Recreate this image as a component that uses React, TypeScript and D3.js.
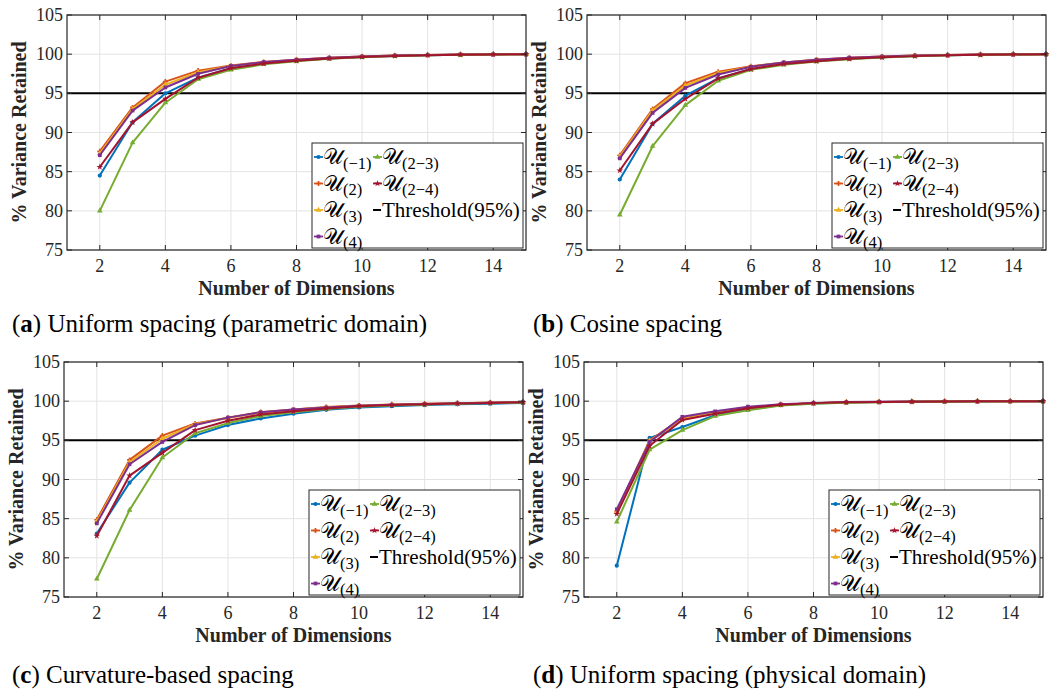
import React from 'react';
import * as d3 from 'd3';

// number of dimensions on the x axis
const dims = [2, 3, 4, 5, 6, 7, 8, 9, 10, 11, 12, 13, 14, 15];

const seriesNames = ['(−1)', '(2)', '(3)', '(4)', '(2−3)', '(2−4)'];
const seriesColors = ['#0072BD', '#D95319', '#EDB120', '#7E2F8E', '#77AC30', '#A2142F'];
const seriesSymbols = [d3.symbolCircle, d3.symbolCross, d3.symbolTriangle, d3.symbolSquare, d3.symbolTriangle, d3.symbolStar];

const yTicks = [75, 80, 85, 90, 95, 100, 105];
const xTicks = [2, 4, 6, 8, 10, 12, 14];
const threshold = 95;

// (a) uniform spacing, parametric domain
const uniformParamBlue = [84.5, 91.3, 95.0, 97.0, 98.2, 98.8, 99.2, 99.45, 99.65, 99.78, 99.87, 99.93, 99.97, 100];
const uniformParamOrange = [87.6, 93.2, 96.5, 97.9, 98.55, 99.0, 99.3, 99.55, 99.7, 99.82, 99.9, 99.95, 99.98, 100];
const uniformParamYellow = [87.3, 93.0, 96.1, 97.7, 98.5, 98.95, 99.27, 99.52, 99.68, 99.8, 99.88, 99.94, 99.97, 100];
const uniformParamPurple = [87.1, 92.8, 95.75, 97.5, 98.5, 99.0, 99.3, 99.55, 99.7, 99.82, 99.9, 99.95, 99.98, 100];
const uniformParamGreen = [80.0, 88.7, 93.8, 96.8, 98.0, 98.7, 99.1, 99.4, 99.6, 99.75, 99.85, 99.92, 99.97, 100];
const uniformParamRed = [85.6, 91.3, 94.3, 97.0, 98.2, 98.8, 99.15, 99.45, 99.65, 99.78, 99.87, 99.93, 99.97, 100];

// (b) cosine spacing
const cosineBlue = [84.0, 91.1, 94.7, 96.9, 98.1, 98.75, 99.15, 99.4, 99.6, 99.75, 99.85, 99.92, 99.97, 100];
const cosineOrange = [87.1, 93.0, 96.3, 97.75, 98.45, 98.95, 99.3, 99.55, 99.7, 99.82, 99.9, 99.95, 99.98, 100];
const cosineYellow = [86.9, 92.8, 96.0, 97.6, 98.4, 98.9, 99.25, 99.5, 99.68, 99.8, 99.88, 99.94, 99.97, 100];
const cosinePurple = [86.7, 92.5, 95.7, 97.4, 98.4, 98.95, 99.3, 99.55, 99.7, 99.82, 99.9, 99.95, 99.98, 100];
const cosineGreen = [79.5, 88.25, 93.5, 96.6, 98.0, 98.65, 99.05, 99.35, 99.58, 99.74, 99.85, 99.92, 99.97, 100];
const cosineRed = [85.15, 91.1, 94.3, 96.9, 98.1, 98.75, 99.1, 99.4, 99.6, 99.75, 99.85, 99.92, 99.97, 100];

// (c) curvature-based spacing
const curvBlue = [83.1, 89.6, 93.8, 95.6, 96.95, 97.8, 98.4, 98.9, 99.2, 99.36, 99.5, 99.6, 99.67, 99.78];
const curvOrange = [84.86, 92.5, 95.6, 97.15, 97.9, 98.6, 98.95, 99.25, 99.45, 99.58, 99.68, 99.75, 99.82, 99.9];
const curvYellow = [84.6, 92.2, 95.2, 97.05, 97.85, 98.55, 98.9, 99.2, 99.42, 99.55, 99.65, 99.73, 99.8, 99.88];
const curvPurple = [84.4, 91.95, 94.8, 96.95, 97.9, 98.6, 98.95, 99.2, 99.42, 99.55, 99.65, 99.73, 99.8, 99.88];
const curvGreen = [77.3, 86.1, 92.8, 95.9, 97.2, 98.1, 98.6, 99.0, 99.3, 99.45, 99.57, 99.67, 99.75, 99.83];
const curvRed = [82.8, 90.5, 93.4, 96.3, 97.5, 98.3, 98.7, 99.07, 99.36, 99.5, 99.6, 99.7, 99.78, 99.87];

// (d) uniform spacing, physical domain
const uniformPhysBlue = [79.0, 95.3, 96.7, 98.2, 98.9, 99.5, 99.7, 99.82, 99.88, 99.92, 99.95, 99.97, 99.98, 100];
const uniformPhysOrange = [85.9, 95.0, 97.8, 98.5, 99.15, 99.55, 99.75, 99.85, 99.9, 99.94, 99.96, 99.98, 99.99, 100];
const uniformPhysYellow = [85.9, 94.9, 97.7, 98.5, 99.15, 99.55, 99.75, 99.85, 99.9, 99.94, 99.96, 99.98, 99.99, 100];
const uniformPhysPurple = [86.2, 94.8, 98.0, 98.7, 99.3, 99.6, 99.78, 99.88, 99.92, 99.95, 99.97, 99.98, 99.99, 100];
const uniformPhysGreen = [84.6, 93.8, 96.3, 98.1, 98.85, 99.45, 99.68, 99.8, 99.87, 99.92, 99.95, 99.97, 99.98, 100];
const uniformPhysRed = [85.6, 94.3, 97.6, 98.4, 99.1, 99.55, 99.75, 99.85, 99.9, 99.94, 99.96, 99.98, 99.99, 100];

const panels = [
  {letter: 'a', caption: ' Uniform spacing (parametric domain)', left: 67, top: 15, capX: 12,
    series: [uniformParamBlue, uniformParamOrange, uniformParamYellow, uniformParamPurple, uniformParamGreen, uniformParamRed]},
  {letter: 'b', caption: ' Cosine spacing', left: 587, top: 15, capX: 533,
    series: [cosineBlue, cosineOrange, cosineYellow, cosinePurple, cosineGreen, cosineRed]},
  {letter: 'c', caption: ' Curvature-based spacing', left: 64, top: 362, capX: 12,
    series: [curvBlue, curvOrange, curvYellow, curvPurple, curvGreen, curvRed]},
  {letter: 'd', caption: ' Uniform spacing (physical domain)', left: 584, top: 362, capX: 533,
    series: [uniformPhysBlue, uniformPhysOrange, uniformPhysYellow, uniformPhysPurple, uniformPhysGreen, uniformPhysRed]}
];

const serif = '"Times New Roman", "Liberation Serif", serif';
const W = 459, H = 235;

function LegendEntry({x, y, i}) {
  const sym = d3.symbol().type(seriesSymbols[i]).size(14);
  return <g transform={`translate(${x},${y})`}>
    <line x1={0} x2={9} y1={0} y2={0} stroke={seriesColors[i]} strokeWidth={1.8} />
    <path d={sym()} transform="translate(4.5,0)" fill={seriesColors[i]} />
    <text x={9} y={7} fontFamily={serif} fontSize={22} fill="#000">
      {'𝒰'}<tspan fontSize={16.5} dy={4.5}>{seriesNames[i]}</tspan>
    </text>
  </g>;
}

function Panel({p}) {
  const x = d3.scaleLinear().domain([1, 15]).range([0, W]);
  const y = d3.scaleLinear().domain([75, 105]).range([H, 0]);
  const line = d3.line().x((d, i) => x(dims[i])).y(d => y(d));
  const axisColor = '#262626';
  const lx = W - 214, ly = H - 107;

  return <g transform={`translate(${p.left},${p.top})`}>
    <rect x={0} y={0} width={W} height={H} fill="#fff" />
    {xTicks.map(t => <line key={'gx' + t} x1={x(t)} x2={x(t)} y1={0} y2={H} stroke="#e3e3e3" strokeWidth={1} />)}
    {yTicks.map(t => <line key={'gy' + t} x1={0} x2={W} y1={y(t)} y2={y(t)} stroke="#e3e3e3" strokeWidth={1} />)}
    <line x1={0} x2={W} y1={y(threshold)} y2={y(threshold)} stroke="#000" strokeWidth={2} />
    {p.series.map((s, i) => {
      const sym = d3.symbol().type(seriesSymbols[i]).size(14);
      return <g key={'s' + i}>
        <path d={line(s)} fill="none" stroke={seriesColors[i]} strokeWidth={2} strokeLinejoin="round" />
        {s.map((v, j) => <path key={j} d={sym()} transform={`translate(${x(dims[j])},${y(v)})`} fill={seriesColors[i]} />)}
      </g>;
    })}
    {/* axes box and ticks */}
    <rect x={0} y={0} width={W} height={H} fill="none" stroke={axisColor} strokeWidth={1.2} />
    {xTicks.map(t => <g key={'tx' + t}>
      <line x1={x(t)} x2={x(t)} y1={H} y2={H - 5} stroke={axisColor} />
      <line x1={x(t)} x2={x(t)} y1={0} y2={5} stroke={axisColor} />
      <text x={x(t)} y={H + 22} textAnchor="middle" fontFamily={serif} fontSize={18} fill={axisColor}>{t}</text>
    </g>)}
    {yTicks.map(t => <g key={'ty' + t}>
      <line x1={0} x2={5} y1={y(t)} y2={y(t)} stroke={axisColor} />
      <line x1={W} x2={W - 5} y1={y(t)} y2={y(t)} stroke={axisColor} />
      <text x={-4} y={y(t) + 6} textAnchor="end" fontFamily={serif} fontSize={18} fill={axisColor}>{t}</text>
    </g>)}
    <text x={W / 2} y={H + 45} textAnchor="middle" fontFamily={serif} fontSize={20} fontWeight="bold" fill={axisColor}>Number of Dimensions</text>
    <text transform={`translate(${-41},${H / 2}) rotate(-90)`} textAnchor="middle" fontFamily={serif} fontSize={20} fontWeight="bold" fill={axisColor}>% Variance Retained</text>

    {/* legend */}
    <g transform={`translate(${lx},${ly})`}>
      <rect x={0} y={0} width={211} height={105} fill="#fff" stroke={axisColor} strokeWidth={1} />
      {[0, 1, 2, 3].map(i => <LegendEntry key={i} x={2} y={14 + i * 26.5} i={i} />)}
      {[4, 5].map((i, k) => <LegendEntry key={i} x={61} y={14 + k * 26.5} i={i} />)}
      <line x1={61} x2={69} y1={67} y2={67} stroke="#000" strokeWidth={2} />
      <text x={70} y={74} fontFamily={serif} fontSize={21} fill="#000">Threshold(95%)</text>
    </g>

    <text x={p.capX - p.left} y={H + (p.top > 100 ? 86 : 82)} fontFamily={serif} fontSize={25} fill="#000">
      (<tspan fontWeight="bold">{p.letter}</tspan>){p.caption}
    </text>
  </g>;
}

export default function App() {
  return <svg width={1053} height={691} style={{position: 'absolute', left: 0, top: 0, background: '#fff'}}>
    <rect width={1053} height={691} fill="#fff" />
    {panels.map(p => <Panel key={p.letter} p={p} />)}
  </svg>;
}
